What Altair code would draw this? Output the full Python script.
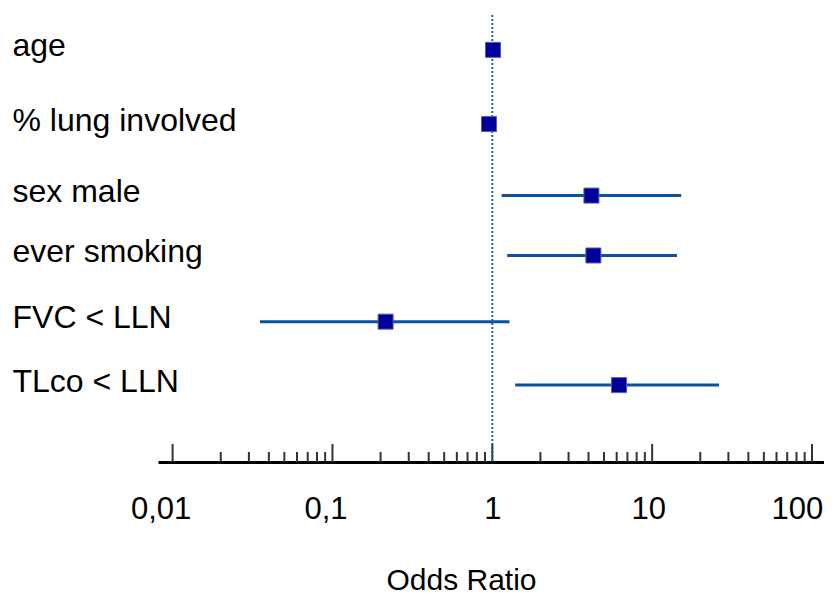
import altair as alt
import pandas as pd

# ---- data ----
labels = ["age", "% lung involved", "sex male", "ever smoking", "FVC < LLN", "TLco < LLN"]
row_pos = [7.8, 24.4, 40.4, 53.8, 68.6, 82.8]          # vertical row placement (% of plot height from top)
odds = [1.01, 0.954, 4.17, 4.29, 0.215, 6.21]
ci_low = [0.98, 0.93, 1.145, 1.24, 0.0352, 1.39]
ci_high = [1.04, 0.98, 15.2, 14.3, 1.28, 26.2]
major_ticks = [0.01, 0.1, 1, 10, 100]
minor_mult = [2, 3, 4, 5, 6, 7, 8, 9]
x_domain = [0.0081, 118.9]
ref_value = [1]

W, H = 666, 447
FONT = "Liberation Sans"

rows = pd.DataFrame({"label": labels, "pos": row_pos, "or": odds, "lo": ci_low, "hi": ci_high})
minor_ticks = [m * d for d in major_ticks[:-1] for m in minor_mult]
major_df = pd.DataFrame({"t": major_ticks})
minor_df = pd.DataFrame({"t": minor_ticks})
ref_df = pd.DataFrame({"ref": ref_value})

xscale = alt.Scale(type="log", domain=x_domain, nice=False)
yscale = alt.Scale(domain=[0, 100], reverse=True, nice=False)

xaxis = alt.Axis(
    values=major_ticks,
    labelExpr="replace(toString(datum.value), '.', ',')",
    ticks=False, tickSize=0, grid=False,
    domainColor="black", domainWidth=3,
    labelFont=FONT, labelFontSize=31, labelColor="black",
    labelPadding=56, labelBaseline="alphabetic",
    labelOffset={"condition": [
        {"test": "datum.value < 0.05", "value": -12},
        {"test": "datum.value < 0.5", "value": -7},
        {"test": "datum.value > 50", "value": -15},
        {"test": "datum.value > 5", "value": -4}], "value": 0},
    labelFlush=False, labelOverlap=False, labelLimit=0,
    title="Odds Ratio", titleFont=FONT, titleFontSize=30, titleFontWeight="normal",
    titleColor="black", titleX=303, titleY=127, titleBaseline="alphabetic", titleAlign="center",
)

ylabel_expr = " : ".join(
    f"abs(datum.value - {p}) < 0.01 ? '{l}'" for p, l in zip(row_pos, labels)
) + " : ''"

yaxis = alt.Axis(
    values=row_pos, labelExpr=ylabel_expr,
    domain=False, ticks=False, tickSize=0, grid=False,
    labelAlign="left", labelBaseline="middle", labelPadding=146,
    labelFont=FONT, labelFontSize=32, labelColor="black", labelOffset=-4,
    labelOverlap=False, labelBound=False, labelLimit=0, title=None,
)

major = alt.Chart(major_df).mark_rule(color="#333333", strokeWidth=2).encode(
    x=alt.X("t:Q", scale=xscale, axis=xaxis),
    y=alt.value(H - 18), y2=alt.value(H),
)
minor = alt.Chart(minor_df).mark_rule(color="#333333", strokeWidth=2).encode(
    x=alt.X("t:Q", scale=xscale, axis=xaxis),
    y=alt.value(H - 10), y2=alt.value(H),
)
ci = alt.Chart(rows).mark_rule(color="#0a52a0", strokeWidth=3, strokeCap="butt").encode(
    x=alt.X("lo:Q", scale=xscale, axis=xaxis),
    x2="hi:Q",
    y=alt.Y("pos:Q", scale=yscale, axis=yaxis),
)
ref = alt.Chart(ref_df).mark_rule(color="#1f5fa8", strokeWidth=2, strokeDash=[2, 2]).encode(
    x=alt.X("ref:Q", scale=xscale, axis=xaxis),
    y=alt.value(0), y2=alt.value(H),
)
pts = alt.Chart(rows).mark_square(size=225, color="#000099", opacity=1, stroke="#5a5ab8", strokeWidth=1).encode(
    x=alt.X("or:Q", scale=xscale, axis=xaxis),
    y=alt.Y("pos:Q", scale=yscale, axis=yaxis),
)

chart = alt.layer(major, minor, ci, ref, pts).properties(
    width=W, height=H,
    autosize=alt.AutoSizeParams(type="none"),
    padding={"left": 150, "top": 7, "right": 0, "bottom": 133},
    background="white",
).configure_view(stroke=None)

chart.save("out.html", embed_options={"renderer": "svg", "actions": False})
